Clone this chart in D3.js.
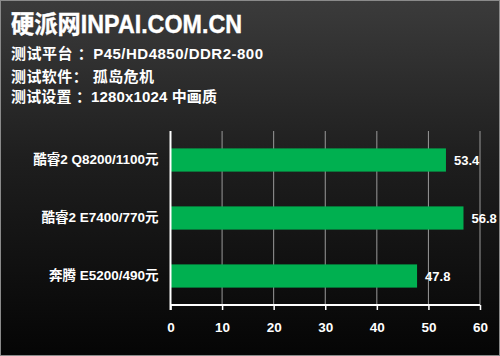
<!DOCTYPE html>
<html><head><meta charset="utf-8">
<script src="https://cdn.jsdelivr.net/npm/d3@7"></script>
<style>
html,body{margin:0;padding:0;background:#000;}
svg{display:block;}
</style></head>
<body>
<svg id="c" width="500" height="356"></svg>
<script>
const categories = ["酷睿2 Q8200/1100元", "酷睿2 E7400/770元", "奔腾 E5200/490元"];
const values = [53.4, 56.8, 47.8];
const valueLabels = ["53.4", "56.8", "47.8"];
const xTicks = [0, 10, 20, 30, 40, 50, 60];
const title = "硬派网INPAI.COM.CN";
const infoLines = ["测试平台 ：P45/HD4850/DDR2-800", "测试软件： 孤岛危机", "测试设置 ：1280x1024 中画质"];

const svg = d3.select("#c");
const W = 500, H = 356;
const defs = svg.append("defs");
const g = defs.append("linearGradient").attr("id","bg").attr("x1",0).attr("y1",0).attr("x2",0).attr("y2",1);
g.append("stop").attr("offset","0%").attr("stop-color","#3b3b3b");
g.append("stop").attr("offset","45%").attr("stop-color","#1e1e1e");
g.append("stop").attr("offset","100%").attr("stop-color","#050505");
svg.append("rect").attr("width",W).attr("height",H).attr("fill","url(#bg)");
svg.append("rect").attr("x",0.5).attr("y",0.5).attr("width",W-1).attr("height",H-1)
  .attr("fill","none").attr("stroke","#8a8a8a").attr("stroke-width",1);

const cjk = "'Liberation Sans', Arial, 'Noto Sans CJK SC', sans-serif";
svg.append("text").attr("x",11).attr("y",33).text(title)
  .attr("fill","#fff").attr("font-family",cjk).attr("font-weight","bold").attr("font-size",25)
  .attr("stroke","#fff").attr("stroke-width",0.4)
  .attr("textLength",231).attr("lengthAdjust","spacingAndGlyphs");
const infoY = [59, 82, 102];
const infoLen = [252, 143, 206];
infoLines.forEach((t,i)=>{
  svg.append("text").attr("x",11).attr("y",infoY[i]).text(t)
    .attr("fill","#fff").attr("font-family",cjk).attr("font-weight","bold").attr("font-size",15)
    .attr("textLength",infoLen[i]).attr("lengthAdjust","spacing");
});

const x = d3.scaleLinear().domain([0,60]).range([170.5,480]);
const y = d3.scaleBand().domain(categories).range([131,305]).paddingInner(0.6).paddingOuter(0.3);

// gridlines
svg.append("g").selectAll("line").data(xTicks.slice(1)).join("line")
  .attr("x1",d=>x(d)).attr("x2",d=>x(d)).attr("y1",131).attr("y2",305)
  .attr("stroke","#9a9a9a").attr("stroke-width",1);

// bars
svg.append("g").selectAll("rect").data(values).join("rect")
  .attr("x",x(0)).attr("y",(d,i)=>y(categories[i]))
  .attr("width",d=>x(d)-x(0)).attr("height",y.bandwidth())
  .attr("fill","#00b050");

// value labels
svg.append("g").selectAll("text").data(values).join("text")
  .attr("x",d=>x(d)+8).attr("y",(d,i)=>y(categories[i])+y.bandwidth()/2+4.5)
  .text((d,i)=>valueLabels[i])
  .attr("fill","#fff").attr("font-family","'Liberation Sans', Arial, sans-serif").attr("font-weight","bold").attr("font-size",13);

// x axis
const xa = svg.append("g").attr("transform","translate(0,305)")
  .call(d3.axisBottom(x).tickValues(xTicks).tickSize(5).tickPadding(12).tickFormat(d3.format("d")));
xa.select(".domain").attr("stroke","#fff").attr("stroke-width",2).attr("d","M"+x(0)+",0H"+x(60));
xa.selectAll(".tick line").attr("stroke","#fff").attr("stroke-width",1.5);
xa.selectAll(".tick text").attr("fill","#fff").attr("font-family","'Liberation Sans', Arial, sans-serif")
  .attr("font-weight","bold").attr("font-size",13.5);

// y axis
const ya = svg.append("g").attr("transform","translate("+x(0)+",0)")
  .call(d3.axisLeft(y).tickSize(0).tickPadding(12));
ya.select(".domain").attr("stroke","#fff").attr("stroke-width",2).attr("d","M0,131V310");
ya.selectAll(".tick text").attr("fill","#fff").attr("font-family",cjk)
  .attr("font-weight","bold").attr("font-size",13.5);
</script>
</body></html>
